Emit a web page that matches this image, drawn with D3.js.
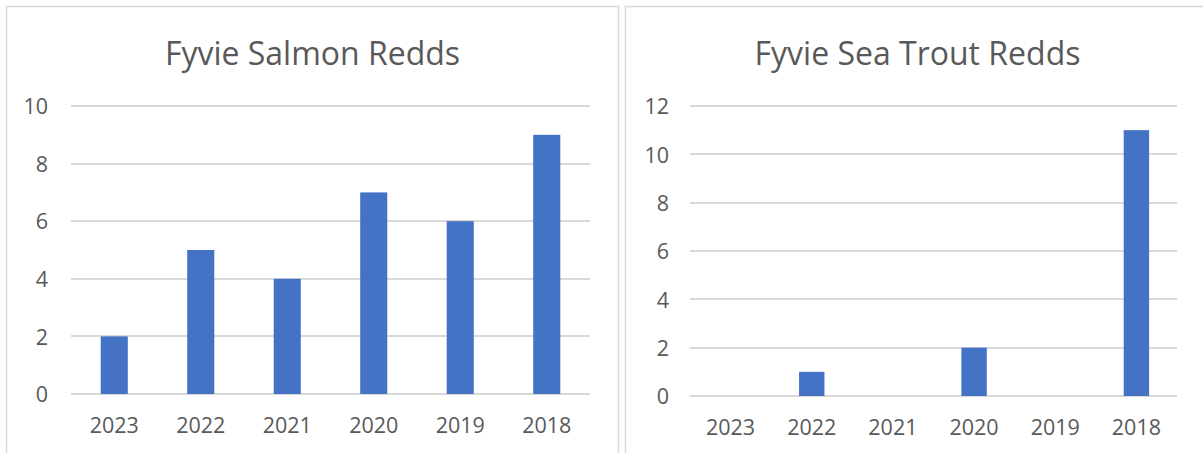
<!DOCTYPE html>
<html>
<head>
<meta charset="utf-8">
<script src="https://cdn.jsdelivr.net/npm/d3@7"></script>
<style>
  body { margin: 0; background: #fff; }
  svg text { font-family: "Open Sans", sans-serif; fill: #595959; }
</style>
</head>
<body>
<svg id="chart" width="1203" height="453"></svg>
<script>
// Data
const years = ["2023", "2022", "2021", "2020", "2019", "2018"];
const salmonRedds = [2, 5, 4, 7, 6, 9];
const seaTroutRedds = [0, 1, 0, 2, 0, 11];
const salmonTicks = [0, 2, 4, 6, 8, 10];
const seaTroutTicks = [0, 2, 4, 6, 8, 10, 12];

const svg = d3.select("#chart");

// Excel-like gap width of ~219% -> bar is ~31% of category width
const gap = 0.687;

function drawPanel(opts) {
  const g = svg.append("g");

  // panel frame
  g.append("rect")
    .attr("x", opts.box[0] + 0.5)
    .attr("y", opts.box[1] + 0.5)
    .attr("width", opts.box[2])
    .attr("height", opts.box[3])
    .attr("fill", "#fff")
    .attr("stroke", "#d9d9d9")
    .attr("stroke-width", 1.5);

  // title
  g.append("text")
    .attr("x", opts.box[0] + opts.box[2] / 2 + 0.5)
    .attr("y", 65)
    .attr("text-anchor", "middle")
    .style("font-size", "32px")
    .text(opts.title);

  const x = d3.scaleBand()
    .domain(years)
    .range([opts.left, opts.right])
    .paddingInner(gap)
    .paddingOuter(gap / 2);

  const y = d3.scaleLinear()
    .domain([0, d3.max(opts.ticks)])
    .range([opts.bottom, opts.top]);

  // gridlines
  g.append("g")
    .selectAll("line")
    .data(opts.ticks)
    .join("line")
    .attr("x1", opts.left)
    .attr("x2", opts.right)
    .attr("y1", (d) => Math.round(y(d)))
    .attr("y2", (d) => Math.round(y(d)))
    .attr("stroke", "#d9d9d9")
    .attr("stroke-width", 2);

  // bars
  g.append("g")
    .selectAll("rect")
    .data(opts.values)
    .join("rect")
    .attr("x", (d, i) => x(years[i]))
    .attr("width", x.bandwidth())
    .attr("y", (d) => y(d))
    .attr("height", (d) => opts.bottom - y(d))
    .attr("fill", "#4472c4");

  // y tick labels
  const yAxis = d3.axisLeft(y).tickValues(opts.ticks).tickSize(0).tickPadding(0);
  const ya = g.append("g")
    .attr("transform", `translate(${opts.yLabelX},0)`)
    .call(yAxis);
  ya.select(".domain").remove();
  ya.selectAll("text")
    .attr("x", 0)
    .attr("dy", "0.36em")
    .style("font-size", "21.5px")
    .style("font-family", null);

  // x tick labels
  const xAxis = d3.axisBottom(x).tickSize(0).tickPadding(0);
  const xa = g.append("g")
    .attr("transform", `translate(0,${opts.xLabelY})`)
    .call(xAxis);
  xa.select(".domain").remove();
  xa.selectAll("text")
    .attr("y", 0)
    .attr("dy", "0.36em")
    .style("font-size", "21.5px")
    .style("font-family", null);
}

drawPanel({
  box: [6, 6, 612, 470],
  title: "Fyvie Salmon Redds",
  values: salmonRedds,
  ticks: salmonTicks,
  left: 71, right: 590, top: 106, bottom: 394,
  yLabelX: 48, xLabelY: 425
});

drawPanel({
  box: [625, 6, 584, 470],
  title: "Fyvie Sea Trout Redds",
  values: seaTroutRedds,
  ticks: seaTroutTicks,
  left: 690, right: 1177, top: 106, bottom: 396,
  yLabelX: 669, xLabelY: 427
});
</script>
</body>
</html>
